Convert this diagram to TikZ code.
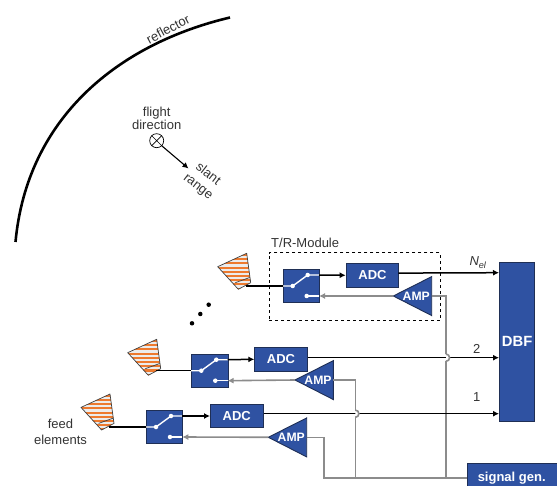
\documentclass[tikz,border=0pt]{standalone}
\usepackage{fontspec}
\setmainfont{Liberation Sans}
\usetikzlibrary{arrows.meta}
\definecolor{bl}{HTML}{2F52A2}
\definecolor{bd}{HTML}{1F2F55}
\definecolor{gw}{HTML}{8C8C8C}
\definecolor{og}{HTML}{EE7A2E}
\definecolor{tx}{HTML}{333333}
\tikzset{
  block/.style={draw=bd,line width=0.9pt,fill=bl,text=white,font=\bfseries\fontsize{13}{14}\selectfont,inner sep=0pt,anchor=north west},
  txt/.style={text=tx,font=\fontsize{13}{13}\selectfont,align=center,inner sep=0pt},
  blackw/.style={black,line width=1.5pt},
  blackarr/.style={blackw,-{Latex[length=6pt,width=6pt]}},
  grayw/.style={gw,line width=1.6pt},
  grayarr/.style={grayw,-{Latex[length=6pt,width=6pt]}},
  sww/.style={white,line width=1.4pt},
  swd/.style={circle,fill=white,inner sep=0pt,minimum size=4.5pt},
}
% #1 id, #2 horn shift, #3 switch origin, #4 ADC origin, #5 amp tip
\newcommand{\element}[5]{%
  \begin{scope}[shift={(#2)}]
    \coordinate (horna#1) at (217.7,266.7);
    \coordinate (hornb#1) at (246.7,253.3);
    \coordinate (hornc#1) at (250.7,282.7);
    \coordinate (hornd#1) at (238.3,289.3);
    \coordinate (hornout#1) at (246,286);
    \begin{scope}
      \clip (horna#1) -- (hornb#1) -- (hornc#1) -- (hornd#1) -- cycle;
      \fill[white!85!gray] (210,250) rectangle (255,292);
      \foreach \yy in {254,258.2,...,292} {\fill[og] (210,\yy) rectangle (255,\yy+2.1);}
    \end{scope}
    \draw[black!75,line width=0.7pt,line join=round] (horna#1) -- (hornb#1) -- (hornc#1) -- (hornd#1) -- cycle;
    \draw[black!75,line width=0.7pt] (235.3,282.7) -- (249.7,277.5);
  \end{scope}
  \begin{scope}[shift={(#3)}]
    \node[block,minimum width=36.3pt,minimum height=33pt] (sw#1) at (0,0) {};
    \coordinate (swin#1) at (0,16.7);
    \coordinate (swd1#1) at (10,16.7);
    \coordinate (swd2#1) at (25,5.7);
    \coordinate (swout#1) at (36.3,5.7);
    \coordinate (swd3#1) at (24,26.7);
    \coordinate (swret#1) at (36.3,26.7);
    \draw[sww,line cap=round,line join=round] (swin#1) -- (swd1#1) -- (swd2#1) -- (swout#1);
    \draw[sww] (swd3#1) -- (swret#1);
    \node[swd] at (swd1#1) {};
    \node[swd] at (swd2#1) {};
    \node[swd] at (swd3#1) {};
  \end{scope}
  \begin{scope}[shift={(#4)}]
    \node[block,minimum width=52.6pt,minimum height=23.4pt] (adc#1) at (0,0) {ADC};
    \coordinate (adcin#1) at (0,12);
    \coordinate (adcout#1) at (52.6,9.8);
  \end{scope}
  \begin{scope}[shift={(#5)}]
    \coordinate (amptip#1) at (0,0);
    \coordinate (ampout#1) at (38.4,0);
    \draw[bd,line width=0.9pt,fill=bl,line join=miter] (0,0) -- (38.4,-19.4) -- (38.4,19.6) -- cycle;
    \node[text=white,font=\bfseries\fontsize{12.2}{13}\selectfont,inner sep=0pt] (amp#1) at (23,0) {AMP};
  \end{scope}
  \draw[blackw] (hornout#1 |- swin#1) -- (swin#1);
  \draw[blackarr] (swout#1) -- (adcin#1);
  \draw[grayarr] (amptip#1) -- (swret#1);
}
\begin{document}
\begin{tikzpicture}[x=1pt,y=-1pt]
\useasboundingbox (0,0) rectangle (557,486);
% reflector
\coordinate (refa) at (15.5,242);
\coordinate (refb) at (230,17.5);
\draw[black,line width=2.6pt] (refa) .. controls (27,118) and (118,44) .. (refb);
\node[txt,rotate=28] (reflabel) at (168,29) {reflector};
\node[txt] (flight) at (156.7,118) {flight\\direction};
\node[draw=black,circle,line width=0.7pt,minimum size=14pt,inner sep=0pt] (fd) at (156.7,140.7) {};
\draw[black,line width=0.7pt] (fd.north west) -- (fd.south east) (fd.north east) -- (fd.south west);
\coordinate (srend) at (188.5,168.5);
\draw[black,line width=1.1pt,-{Latex[length=6pt,width=6pt]}] (fd.south east) -- (srend);
\node[txt,rotate=-38] (slant) at (203,180.5) {slant\\[3pt]range};
% T/R module frame
\node[draw=black,dashed,line width=0.7pt,inner sep=0pt,minimum width=171.3pt,minimum height=67.7pt,anchor=north west] (tr) at (268.7,252.3) {};
\node[txt,anchor=west] (trl) at (271,242.5) {T/R-Module};
% dots
\foreach \i/\a/\b in {1/192/323.3,2/200.3/314,3/208.7/304.7}{\node[circle,fill=black,inner sep=0pt,minimum size=4.5pt] (dot\i) at (\a,\b) {};}
% elements
\element{a}{0,0}{282.7,269.3}{345.7,263.3}{393.3,296}
\element{b}{-90,86}{191.3,354}{254.3,347.3}{295,380}
\element{c}{-136.7,140.7}{146,410.3}{210,404}{268.3,437.3}
% DBF and signal generator
\node[block,minimum width=35.3pt,minimum height=159pt,font=\bfseries\fontsize{14.8}{16}\selectfont] (dbf) at (499,261.7) {DBF};
\node[block,minimum width=90pt,minimum height=24pt] (sg) at (466.7,462.7) {};
\node[text=white,font=\bfseries\fontsize{13}{14}\selectfont,inner sep=0pt] (sgl) at (511.7,478.5) {signal gen.};
% gray feed lines
\coordinate (sgin) at (466.7,477.7);
\coordinate (j1) at (446,477.7);
\coordinate (j2) at (355.3,477.7);
\coordinate (j3) at (324,477.7);
\coordinate (hop1) at (446,354.1);
\coordinate (hop2) at (355.3,410.1);
\draw[grayw] (ampouta) -| (hop1) ++(0,7.2) -- (j1);
\draw[grayw] (ampoutb) -| (hop2) ++(0,7.2) -- (j2);
\draw[grayw,line join=miter] (ampoutc) -| (j3) -- (sgin);
% black lines to DBF
\coordinate (dbfa) at (499,272.7);
\coordinate (dbfb) at (499,357.7);
\coordinate (dbfc) at (499,413.7);
\draw[blackarr] (adcouta) -- (dbfa);
\draw[blackarr] (adcb.east |- dbfb) -- (dbfb);
\draw[blackarr] (adcc.east |- dbfc) -- (dbfc);
% hops of the gray lines over the black lines
\foreach \h in {hop1,hop2}{
  \fill[white] (\h) arc[start angle=-90,end angle=90,radius=3.6] -- cycle;
  \draw[grayw] (\h) arc[start angle=-90,end angle=90,radius=3.6];
}
\node[txt,font=\itshape\fontsize{13}{13}\selectfont] (nel) at (478,262.7) {N\textsubscript{el}};
\node[txt] (two) at (476.7,349) {2};
\node[txt] (one) at (476.7,397.3) {1};
\node[txt] (fe) at (60.5,432) {feed\\[2.7pt]elements};
\end{tikzpicture}
\end{document}
